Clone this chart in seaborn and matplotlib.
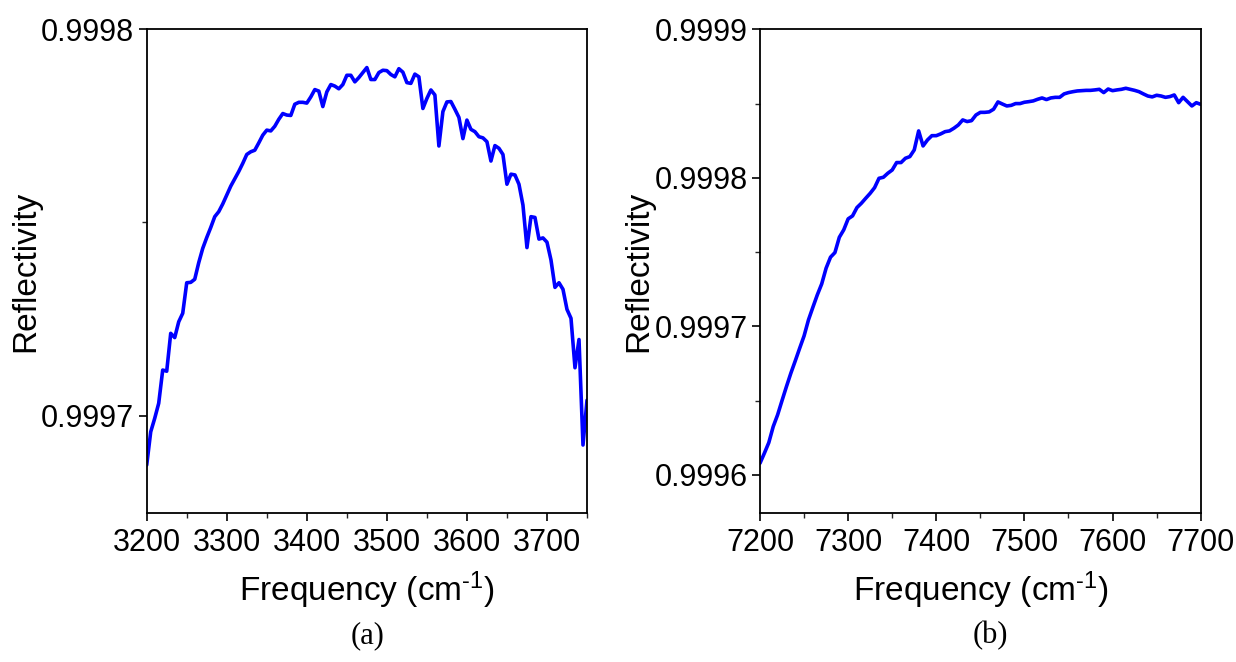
import numpy as np
import pandas as pd
import matplotlib
matplotlib.use("Agg")
import matplotlib.pyplot as plt
import seaborn as sns

# ---- data ----
freq_a = np.arange(3200, 3751, 5)
refl_a = [
    0.9996872, 0.9996958, 0.9996993, 0.9997032, 0.9997118, 0.9997115, 0.9997213, 0.9997202,
    0.9997243, 0.9997265, 0.9997344, 0.9997345, 0.9997353, 0.9997396, 0.9997433, 0.9997461,
    0.9997487, 0.9997515, 0.9997528, 0.9997548, 0.9997571, 0.9997594, 0.9997613, 0.9997632,
    0.9997653, 0.9997676, 0.9997683, 0.9997687, 0.9997706, 0.9997726, 0.9997739, 0.9997737,
    0.9997749, 0.9997767, 0.9997782, 0.9997778, 0.9997777, 0.9997806, 0.9997811, 0.9997811,
    0.9997809, 0.9997825, 0.9997844, 0.9997840, 0.9997800, 0.9997838, 0.9997857, 0.9997853,
    0.9997846, 0.9997857, 0.9997881, 0.9997881, 0.9997864, 0.9997875, 0.9997888, 0.9997901,
    0.9997870, 0.9997870, 0.9997888, 0.9997894, 0.9997893, 0.9997883, 0.9997877, 0.9997898,
    0.9997889, 0.9997862, 0.9997860, 0.9997884, 0.9997877, 0.9997795, 0.9997821, 0.9997843,
    0.9997830, 0.9997698, 0.9997787, 0.9997812, 0.9997813, 0.9997793, 0.9997772, 0.9997717,
    0.9997765, 0.9997741, 0.9997735, 0.9997722, 0.9997719, 0.9997709, 0.9997659, 0.9997699,
    0.9997692, 0.9997676, 0.9997599, 0.9997625, 0.9997623, 0.9997599, 0.9997545, 0.9997435,
    0.9997515, 0.9997513, 0.9997457, 0.9997460, 0.9997449, 0.9997403, 0.9997332, 0.9997344,
    0.9997327, 0.9997275, 0.9997252, 0.9997124, 0.9997197, 0.9996924, 0.9997040,
]

freq_b = np.arange(7200, 7701, 5)
refl_b = [
    0.9996079, 0.9996147, 0.9996218, 0.9996326, 0.9996405, 0.9996501, 0.9996595, 0.9996685,
    0.9996768, 0.9996853, 0.9996936, 0.9997044, 0.9997129, 0.9997212, 0.9997286, 0.9997392,
    0.9997466, 0.9997497, 0.9997600, 0.9997650, 0.9997724, 0.9997744, 0.9997800, 0.9997829,
    0.9997863, 0.9997896, 0.9997934, 0.9997997, 0.9998004, 0.9998031, 0.9998053, 0.9998103,
    0.9998103, 0.9998132, 0.9998143, 0.9998188, 0.9998316, 0.9998215, 0.9998255, 0.9998284,
    0.9998284, 0.9998296, 0.9998311, 0.9998316, 0.9998334, 0.9998356, 0.9998390, 0.9998379,
    0.9998385, 0.9998423, 0.9998441, 0.9998441, 0.9998444, 0.9998462, 0.9998511, 0.9998497,
    0.9998484, 0.9998488, 0.9998500, 0.9998500, 0.9998509, 0.9998513, 0.9998518, 0.9998529,
    0.9998538, 0.9998527, 0.9998538, 0.9998542, 0.9998542, 0.9998565, 0.9998574, 0.9998580,
    0.9998585, 0.9998587, 0.9998589, 0.9998589, 0.9998592, 0.9998596, 0.9998574, 0.9998598,
    0.9998587, 0.9998592, 0.9998596, 0.9998603, 0.9998596, 0.9998589, 0.9998580, 0.9998565,
    0.9998551, 0.9998545, 0.9998556, 0.9998551, 0.9998542, 0.9998547, 0.9998558, 0.9998506,
    0.9998542, 0.9998513, 0.9998484, 0.9998506, 0.9998495,
]

xticks_a = [3200, 3300, 3400, 3500, 3600, 3700]
yticks_a = [0.9997, 0.9998]
xticks_b = [7200, 7300, 7400, 7500, 7600, 7700]
yticks_b = [0.9996, 0.9997, 0.9998, 0.9999]
xlabel = "Frequency (cm$^{\\text{-}1}$)"
ylabel = "Reflectivity"
captions = ["(a)", "(b)"]

# ---- style ----
sns.set_theme(style="ticks")
plt.rcParams["font.family"] = ["Liberation Sans", "DejaVu Sans"]
plt.rcParams["mathtext.fontset"] = "custom"
plt.rcParams["mathtext.rm"] = "Liberation Sans"
plt.rcParams["mathtext.it"] = "Liberation Sans"
plt.rcParams["text.color"] = "black"
plt.rcParams["axes.labelcolor"] = "black"

fig = plt.figure(figsize=(12.36, 6.62), dpi=100)
W, H = 1236, 662
ax_a = fig.add_axes([146.7 / W, 1 - 513 / H, 440.3 / W, (513 - 29.3) / H])
ax_b = fig.add_axes([760 / W, 1 - 513 / H, 440.7 / W, (513 - 29.3) / H])

df_a = pd.DataFrame({"freq": freq_a, "refl": refl_a})
df_b = pd.DataFrame({"freq": freq_b, "refl": refl_b})

sns.lineplot(data=df_a, x="freq", y="refl", ax=ax_a, color="#0000FF", linewidth=2.6)
sns.lineplot(data=df_b, x="freq", y="refl", ax=ax_b, color="#0000FF", linewidth=2.6)

settings = [
    (ax_a, (3200, 3750), (0.9996748, 0.9998), xticks_a, yticks_a, 50, 0.00005),
    (ax_b, (7200, 7700), (0.9995744, 0.9999), xticks_b, yticks_b, 50, 0.00005),
]
for ax, xl, yl, xt, yt, xminor, yminor in settings:
    ax.set_xlim(*xl)
    ax.set_ylim(*yl)
    ax.set_xticks(xt)
    ax.set_xticklabels([str(v) for v in xt])
    ax.set_yticks(yt)
    ax.set_yticklabels([f"{v:.4f}" for v in yt])
    ax.xaxis.set_minor_locator(matplotlib.ticker.MultipleLocator(xminor))
    ax.yaxis.set_minor_locator(matplotlib.ticker.MultipleLocator(yminor))
    ax.tick_params(which="major", direction="out", length=6, width=1.2, labelsize=22,
                   colors="black", pad=5)
    ax.tick_params(axis="y", which="major", pad=3)
    ax.tick_params(which="minor", direction="out", length=3.5, width=1.0)
    ax.tick_params(top=False, right=False, which="both")
    for s in ax.spines.values():
        s.set_visible(True)
        s.set_linewidth(1.3)
        s.set_color("black")
    ax.set_xlabel(xlabel, fontsize=24, labelpad=8)
    ax.set_ylabel(ylabel, fontsize=24, labelpad=0)
    ax.grid(False)
    ax.set_facecolor("white")

fig.text(368 / W, 1 - 636 / H, captions[0], ha="center", va="center",
         fontsize=22, family="Liberation Serif")
fig.text(990 / W, 1 - 636 / H, captions[1], ha="center", va="center",
         fontsize=22, family="Liberation Serif")

fig.savefig("out.png", dpi=100, facecolor="white")
